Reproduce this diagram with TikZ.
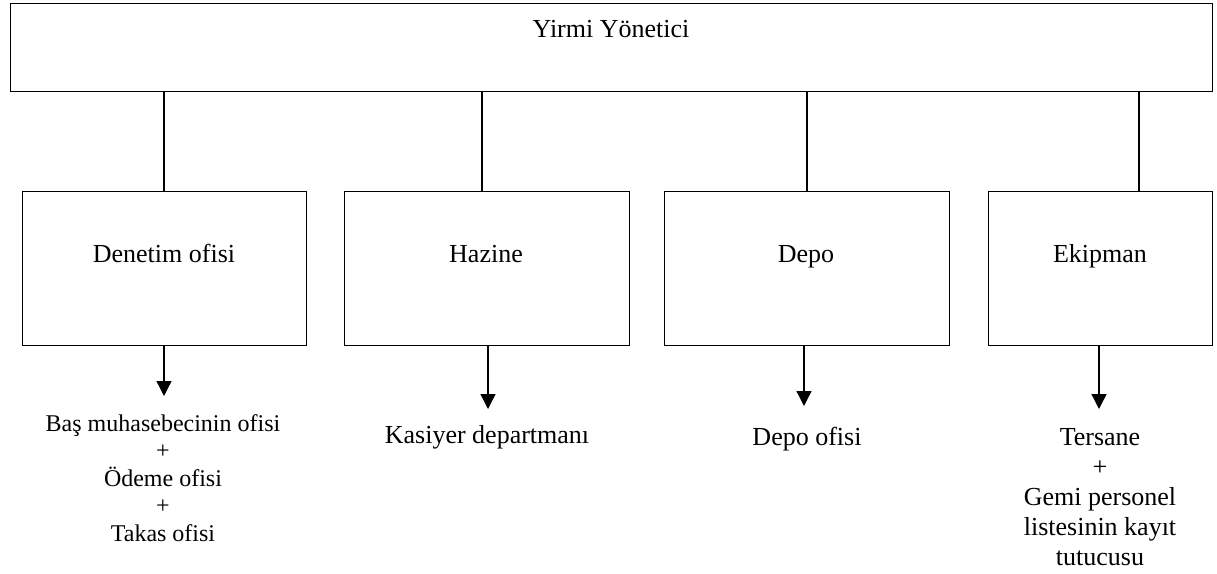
\documentclass[tikz,border=0pt]{standalone}
\usepackage{fontspec}
\setmainfont{Liberation Serif}
\usetikzlibrary{arrows.meta}
\begin{document}
\begin{tikzpicture}[x=1pt,y=-1pt,
  box/.style={draw,line width=1.3pt,inner sep=0pt,anchor=north west},
  lbl/.style={inner sep=0pt,font=\fontsize{26}{30}\selectfont,align=center},
  bl/.style={lbl,anchor=base},
  small/.style={inner sep=0pt,font=\fontsize{24}{27.5}\selectfont,align=center},
  link/.style={line width=1.3pt},
  arr/.style={line width=1.3pt,-{Triangle[width=15pt,length=15pt]}}]
\useasboundingbox (0,0) rectangle (1217,573);
\node[box,minimum width=1202.5pt,minimum height=88pt] (top) at (9.5,3) {};
\node[bl] (title) at (611,37.5) {Yirmi Yönetici};
\node[box,minimum width=284pt,minimum height=154pt] (b1) at (22,191) {};
\node[box,minimum width=285pt,minimum height=154pt] (b2) at (344,191) {};
\node[box,minimum width=285pt,minimum height=154pt] (b3) at (664,191) {};
\node[box,minimum width=224pt,minimum height=154pt] (b4) at (988,191) {};
\node[bl] (t1) at (164,262) {Denetim ofisi};
\node[bl] (t2) at (486,262) {Hazine};
\node[bl] (t3) at (806,262) {Depo};
\node[bl] (t4) at (1100,262) {Ekipman};
\draw[link] (top.south -| 164,0) -- (b1.north -| 164,0);
\draw[link] (top.south -| 482,0) -- (b2.north -| 482,0);
\draw[link] (top.south -| 807,0) -- (b3.north -| 807,0);
\draw[link] (top.south -| 1139,0) -- (b4.north -| 1139,0);
\coordinate (e1) at (164,396);
\coordinate (e2) at (488,409);
\coordinate (e3) at (804,406);
\coordinate (e4) at (1099,409);
\draw[arr] (b1.south -| e1) -- (e1);
\draw[arr] (b2.south -| e2) -- (e2);
\draw[arr] (b3.south -| e3) -- (e3);
\draw[arr] (b4.south -| e4) -- (e4);
\node[small] (s1) at (163,478) {Baş muhasebecinin ofisi\\+\\Ödeme ofisi\\+\\Takas ofisi};
\node[bl] (s2) at (487,443) {Kasiyer departmanı};
\node[bl] (s3) at (807,445) {Depo ofisi};
\node[lbl] (s4) at (1100,497) {Tersane\\+\\Gemi personel\\listesinin kayıt\\tutucusu};
\end{tikzpicture}
\end{document}
